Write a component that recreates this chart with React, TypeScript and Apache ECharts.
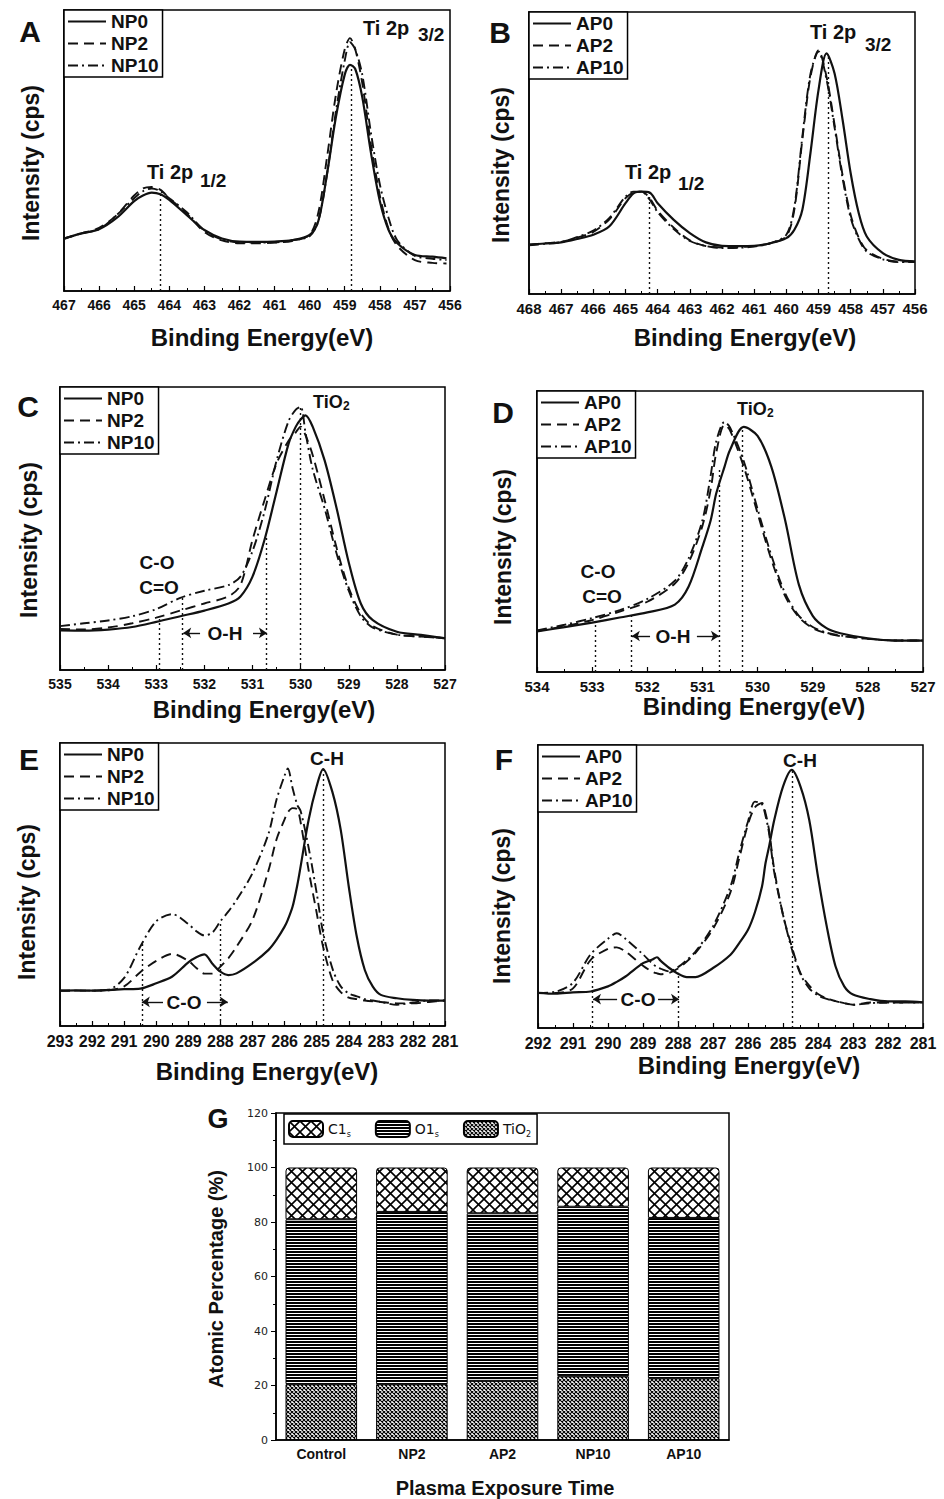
import React, { useEffect, useRef } from 'react';
import * as echarts from 'echarts';

// ---------- Panel A : Ti 2p, NP series ----------
const energyA = [467, 466.5, 466, 465.5, 465, 464.75, 464.5, 464.25, 464, 463.5, 463, 462.5, 462, 461.5, 461, 460.5, 460, 459.75, 459.5, 459.25, 459, 458.85, 458.7, 458.5, 458.25, 458, 457.75, 457.5, 457, 456.5, 456.1];
const aNP0 = [18.7, 20.5, 22, 26, 32, 34, 35, 34.4, 32.4, 27, 21.7, 18.7, 17.6, 17.5, 17.6, 18.1, 20, 25, 42, 62, 77, 80.5, 79, 69, 49, 32, 21.7, 17, 12.8, 12.2, 11.6];
const aNP2 = [18.7, 20.5, 22.5, 27, 34, 36.5, 37, 36, 33, 27.5, 21, 18, 17, 17, 17.2, 17.8, 20, 28, 48, 70, 86, 90, 86, 74, 52, 34, 22, 16, 11, 10, 9.8];
const aNP10 = [18.5, 20.5, 22, 27, 33, 35.5, 36.5, 35.5, 33, 28, 21.5, 18.3, 17.3, 17.2, 17.3, 18, 19.5, 25, 42, 64, 82, 88.5, 86, 77, 56, 38, 26, 18, 12.5, 11.5, 11];
const dropsA = [[464.27, 35], [458.8, 80.5]];

// ---------- Panel B : Ti 2p, AP series ----------
const energyB = [468, 467.5, 467, 466.5, 466, 465.5, 465, 464.75, 464.5, 464.25, 464, 463.5, 463, 462.5, 462, 461.5, 461, 460.5, 460, 459.75, 459.5, 459.25, 459, 458.75, 458.5, 458.25, 458, 457.75, 457.5, 457, 456.5, 456];
const bAP0 = [17.5, 17.9, 18.3, 19.5, 21, 24, 32.2, 35.7, 36.3, 36, 32.2, 26.3, 21.6, 18.3, 17.1, 17, 17.1, 18, 19.8, 22.8, 30, 50, 72.3, 85.3, 78.2, 61.7, 42.8, 28.7, 20.4, 14.5, 12.1, 11.6];
const bAP2 = [17.5, 18, 18.5, 20, 22, 26.5, 34, 36, 36.3, 34, 29.5, 23.5, 19, 17, 16.5, 16.6, 17, 18, 20.5, 30, 55, 77, 86.5, 77, 60, 42, 28, 20, 15.5, 12.5, 11.5, 11.5];
const bAP10 = [17.3, 17.8, 18.4, 20.2, 22.5, 27, 34.5, 36.3, 36.3, 33.5, 29, 23, 18.8, 17, 16.3, 16.4, 16.8, 18, 21, 31, 56, 78, 86, 76, 59, 41, 27, 19.5, 15, 12.3, 11.3, 11.3];
const dropsB = [[464.27, 36.3], [458.7, 85]];

// ---------- Panel C : O 1s, NP series ----------
const energyC = [535, 534.5, 534, 533.5, 533, 532.5, 532, 531.5, 531.25, 531, 530.75, 530.5, 530.25, 530.1, 530, 529.9, 529.75, 529.5, 529.25, 529, 528.75, 528.5, 528, 527.5, 527];
const cNP0 = [14, 13.9, 14.3, 15.2, 17, 19, 21, 23.5, 26, 33, 46, 63, 80, 86, 88.5, 90, 86, 74, 57, 38, 23.5, 17.6, 13.5, 12.4, 11.2];
const cNP2 = [14.5, 14.3, 15, 16.5, 18.5, 21, 23.5, 26, 30, 46, 60, 73, 81, 84, 86, 83, 76, 60, 43, 29, 20, 15.5, 12.5, 11.8, 11.3];
const cNP10 = [15.5, 16.5, 17.5, 19, 21.5, 25.5, 28, 30, 33, 42, 56, 74, 88, 92, 93, 84, 71, 57, 41, 28, 19, 15, 12.5, 11.8, 11.3];
const dropsC = [[532.94, 18], [532.45, 26], [530.71, 47], [530.0, 93]];
const arrowsC = [[532.09, 532.44, 13.1], [530.99, 530.70, 13.1]];

// ---------- Panel D : O 1s, AP series ----------
const energyD = [534, 533.5, 533, 532.5, 532, 531.5, 531.25, 531, 530.85, 530.75, 530.6, 530.5, 530.25, 530, 529.75, 529.5, 529.25, 529, 528.75, 528.5, 528, 527.5, 527];
const dAP0 = [14.4, 16, 17.6, 19.4, 21.2, 24, 30.4, 44.6, 54, 63.5, 73, 79, 87.2, 84, 73, 54, 31, 20, 15.6, 13.8, 12, 11.2, 11.2];
const dAP2 = [14.6, 16.3, 18.5, 21.5, 25, 31.5, 39, 52, 65, 78, 88, 86, 73, 56.5, 40, 27, 19.5, 15.6, 13.8, 12.8, 11.8, 11.2, 11.2];
const dAP10 = [14.8, 16.8, 19.2, 22, 26, 32.5, 40.5, 54, 70, 82, 89, 87, 75, 58, 41.5, 28, 20, 16, 14, 13, 11.8, 11.2, 11.2];
const dropsD = [[532.94, 18], [532.29, 21], [530.69, 72], [530.28, 87]];
const arrowsD = [[531.95, 532.28, 12.8], [531.10, 530.70, 12.8]];

// ---------- Panel E : C 1s, NP series ----------
const energyE = [293, 292.5, 292, 291.5, 291, 290.5, 290, 289.5, 289, 288.75, 288.5, 288.25, 288, 287.75, 287.5, 287, 286.5, 286.25, 286, 285.9, 285.75, 285.6, 285.5, 285.25, 285, 284.8, 284.5, 284.25, 284, 283.75, 283.5, 283.25, 283, 282.5, 282, 281.5, 281];
const eNP0 = [12.5, 12.6, 12.5, 12.7, 13, 13.2, 15.1, 17.5, 22.5, 24.3, 25.3, 22, 19.2, 18, 18.6, 22.2, 26.9, 30.5, 35.1, 37.5, 42.2, 50, 56.4, 72.9, 84.7, 90.8, 82.3, 69.3, 49.3, 31.6, 19.8, 13.9, 11, 9.8, 9.2, 9, 9];
const eNP2 = [12.5, 12.5, 12.5, 12.6, 14, 19, 23, 25.5, 23, 20.5, 18.5, 18.5, 21, 24, 28, 37.5, 55, 66, 73, 75.5, 77, 76.5, 72, 55, 40, 28, 16, 12, 10, 9.5, 9, 8.7, 8.5, 8, 8, 8.5, 9];
const eNP10 = [12.5, 12.5, 12.5, 12.8, 17, 28, 37, 39.5, 36, 33.5, 32, 33, 37, 40.5, 44.5, 54, 68, 80, 88.5, 91, 84, 78, 76, 63, 47, 33, 20, 14, 11.5, 10.5, 9.5, 9, 8.5, 7.5, 8.3, 9, 9];
const dropsE = [[290.45, 30], [288.0, 37], [284.81, 90.8]];
const arrowsE = [[289.79, 290.45, 8.5], [288.42, 287.77, 8.5]];

// ---------- Panel F : C 1s, AP series ----------
const energyF = [292, 291.5, 291, 290.5, 290, 289.75, 289.5, 289, 288.75, 288.6, 288.5, 288.25, 288, 287.75, 287.5, 287, 286.5, 286.25, 286, 285.8, 285.6, 285.5, 285.4, 285.25, 285, 284.75, 284.5, 284.25, 284, 283.75, 283.5, 283.25, 283, 282.5, 282, 281.5, 281];
const fAP0 = [12.4, 12.1, 12.6, 12.9, 14.7, 16.3, 18.2, 22.9, 24.1, 25, 23.8, 21.2, 19.2, 18, 18, 21.2, 25.9, 30, 34.7, 41, 50, 58.2, 64, 73.5, 85.3, 91.2, 85.3, 73.5, 53.5, 35.9, 21.8, 14.7, 11.8, 10.2, 9.4, 9.4, 9.1];
const fAP2 = [12.4, 12.4, 14, 24, 28, 28.5, 27, 22, 20, 19.3, 19, 19.5, 21, 23.5, 26.5, 35, 48, 60, 72, 78, 79.5, 76, 70, 56, 40, 28.8, 19.4, 15, 12, 10.5, 9.5, 8.8, 8.2, 9, 9, 9, 9];
const fAP10 = [12.4, 12.8, 16, 26, 31.5, 33.5, 31.5, 26, 23, 21.5, 21, 20, 21.5, 24, 27, 36, 50, 62, 73, 80, 79, 75, 69, 55, 40, 28, 19, 14, 11.5, 10.3, 9.5, 8.8, 8.2, 8.8, 9, 9, 9];
const dropsF = [[290.46, 26.5], [287.98, 19.5], [284.75, 91]];
const arrowsF = [[289.74, 290.43, 10.2], [288.57, 287.97, 10.2]];

// ---------- Panel G : atomic percentage ----------
const groups = ['Control', 'NP2', 'AP2', 'NP10', 'AP10'];
const tio2 = [20.5, 20.5, 21.7, 23.4, 22.7];
const o1s = [60.5, 63.2, 61.5, 62.2, 58.8];
const c1s = [19, 16.3, 16.8, 14.4, 18.5];
const yTicksG = [0, 120, 20];

const NP = ['NP0', 'NP2', 'NP10'];
const AP = ['AP0', 'AP2', 'AP10'];

const FONT = '"Liberation Sans", Arial, Helvetica, sans-serif';
const INK = '#111';

function makePattern(w: number, h: number, draw: (ctx: CanvasRenderingContext2D) => void) {
  const c = document.createElement('canvas');
  c.width = w;
  c.height = h;
  const ctx = c.getContext('2d')!;
  ctx.fillStyle = '#fff';
  ctx.fillRect(0, 0, w, h);
  ctx.strokeStyle = '#000';
  ctx.fillStyle = '#000';
  draw(ctx);
  return { image: c.toDataURL(), repeat: 'repeat', imageWidth: w, imageHeight: h } as any;
}

function crossHatch(size: number, lw: number) {
  return makePattern(size, size, (ctx) => {
    ctx.lineWidth = lw;
    for (const k of [-size, 0, size]) {
      ctx.beginPath();
      ctx.moveTo(k, 0);
      ctx.lineTo(k + size, size);
      ctx.moveTo(k + size, 0);
      ctx.lineTo(k, size);
      ctx.stroke();
    }
  });
}

export default function App() {
  const ref = useRef<HTMLDivElement>(null);

  useEffect(() => {
    const chart = echarts.init(ref.current!, undefined, { renderer: 'svg' });

    const panels = [
      { energy: energyA, names: NP, values: [aNP0, aNP2, aNP10], min: 456, max: 467, drops: dropsA, arrows: [] as number[][] },
      { energy: energyB, names: AP, values: [bAP0, bAP2, bAP10], min: 456, max: 468, drops: dropsB, arrows: [] as number[][] },
      { energy: energyC, names: NP, values: [cNP0, cNP2, cNP10], min: 527, max: 535, drops: dropsC, arrows: arrowsC },
      { energy: energyD, names: AP, values: [dAP0, dAP2, dAP10], min: 527, max: 534, drops: dropsD, arrows: arrowsD },
      { energy: energyE, names: NP, values: [eNP0, eNP2, eNP10], min: 281, max: 293, drops: dropsE, arrows: arrowsE },
      { energy: energyF, names: AP, values: [fAP0, fAP2, fAP10], min: 281, max: 292, drops: dropsF, arrows: arrowsF },
    ];

    const GRIDS = [
      { left: 64, top: 10, width: 386, height: 281 },
      { left: 529, top: 12, width: 386, height: 282 },
      { left: 60, top: 387, width: 385, height: 283 },
      { left: 537, top: 391, width: 386, height: 281 },
      { left: 60, top: 743, width: 385, height: 283 },
      { left: 538, top: 745, width: 385, height: 283 },
      { left: 276, top: 1113, width: 453, height: 327 },
    ];
    const tickFont = [14, 15, 14, 15, 16, 16];
    const lineTypes: any[] = ['solid', [10, 6], [10, 4, 2, 4]];

    const grid = GRIDS.map((g) => ({ ...g, show: true, borderColor: '#000', borderWidth: 1.5, backgroundColor: 'transparent' }));

    const xAxis: any[] = panels.map((p, i) => ({
      type: 'value', gridIndex: i, min: p.min, max: p.max, interval: 1, inverse: true,
      axisLine: { show: true, onZero: false, lineStyle: { color: '#000', width: 1.5 } },
      axisTick: { show: true, inside: true, length: 5, lineStyle: { color: '#000', width: 1.2 } },
      minorTick: { show: true, splitNumber: 2, length: 3, lineStyle: { color: '#000', width: 1 } },
      axisLabel: { color: INK, fontWeight: 'bold', fontSize: tickFont[i], fontFamily: FONT, margin: 7 },
      splitLine: { show: false }, minorSplitLine: { show: false },
    }));
    xAxis.push({
      type: 'category', gridIndex: 6, data: groups,
      axisLine: { show: true, lineStyle: { color: '#000', width: 1.5 } },
      axisTick: { show: false },
      axisLabel: { color: INK, fontWeight: 'bold', fontSize: 14, fontFamily: FONT, margin: 7 },
    });

    const yAxis: any[] = panels.map((_, i) => ({
      type: 'value', gridIndex: i, min: 0, max: 100,
      axisLine: { show: true, lineStyle: { color: '#000', width: 1.5 } },
      axisTick: { show: false }, axisLabel: { show: false }, splitLine: { show: false },
    }));
    yAxis.push({
      type: 'value', gridIndex: 6, min: yTicksG[0], max: yTicksG[1], interval: yTicksG[2],
      axisLine: { show: true, lineStyle: { color: '#000', width: 1.5 } },
      axisTick: { show: true, inside: false, length: 5, lineStyle: { color: '#000' } },
      minorTick: { show: true, splitNumber: 2, length: 3, lineStyle: { color: '#000' } },
      axisLabel: { color: '#222', fontSize: 11, fontFamily: '"DejaVu Sans", sans-serif', margin: 8 },
      splitLine: { show: false },
    });

    const series: any[] = [];
    panels.forEach((p, i) => {
      p.values.forEach((vals, k) => {
        const s: any = {
          type: 'line', name: p.names[k], xAxisIndex: i, yAxisIndex: i,
          data: p.energy.map((e, j) => [e, vals[j]]),
          symbol: 'none', smooth: 0.3, silent: true, color: INK,
          lineStyle: { color: INK, width: k === 0 ? 2.2 : 1.9, type: lineTypes[k] },
          emphasis: { disabled: true },
        };
        if (k === 0) {
          s.markLine = {
            silent: true, symbol: ['none', 'none'], label: { show: false },
            lineStyle: { color: INK, type: [2, 3], width: 1.4 },
            emphasis: { disabled: true },
            data: p.drops.map(([e, top]) => [{ coord: [e, 0] }, { coord: [e, top] }]),
          };
        }
        if (k === 1 && p.arrows.length) {
          s.markLine = {
            silent: true, symbol: ['none', 'none'], symbolSize: 8, label: { show: false },
            lineStyle: { color: INK, type: 'solid', width: 1.4 },
            emphasis: { disabled: true },
            data: p.arrows.map(([tail, head, y]) => [
              { coord: [tail, y], symbol: 'none' },
              { coord: [head, y], symbol: 'arrow', symbolSize: 8 },
            ]),
          };
        }
        series.push(s);
      });
    });

    const patC = crossHatch(11, 1.6);
    const patO = makePattern(4, 3, (ctx) => { ctx.fillRect(0, 0, 4, 2); });
    const patT = crossHatch(4, 1.1);

    const barBase = { type: 'bar', stack: 'atomic', xAxisIndex: 6, yAxisIndex: 6, barWidth: '79%', silent: true, emphasis: { disabled: true } };
    series.push({ ...barBase, name: 'TiO2', data: tio2, itemStyle: { color: patT, borderColor: '#000', borderWidth: 1 } });
    series.push({ ...barBase, name: 'O1s', data: o1s, itemStyle: { color: patO, borderColor: '#000', borderWidth: 1 } });
    series.push({ ...barBase, name: 'C1s', data: c1s, itemStyle: { color: patC, borderColor: '#000', borderWidth: 1, borderRadius: [3, 3, 0, 0] } });

    const legendPos = [
      { left: 64, top: 10 }, { left: 529, top: 12 }, { left: 60, top: 387 },
      { left: 537, top: 391 }, { left: 60, top: 743 }, { left: 538, top: 745 },
    ];
    const legend: any[] = panels.map((p, i) => ({
      ...legendPos[i], data: p.names, orient: 'vertical', selectedMode: false,
      itemWidth: 38, itemHeight: 12, itemGap: 3, padding: [2, 4, 2, 3],
      borderColor: '#000', borderWidth: 1.5, backgroundColor: '#fff',
      itemStyle: { color: 'rgba(0,0,0,0)', borderColor: 'rgba(0,0,0,0)', borderWidth: 0, opacity: 0 },
      textStyle: { color: INK, fontWeight: 'bold', fontSize: 19, fontFamily: FONT },
    }));
    const subNames: Record<string, string> = { C1s: '{a|C1}{s|s}', O1s: '{a|O1}{s|s}', TiO2: '{a|TiO}{s|2}' };
    legend.push({
      left: 284, top: 1114, data: ['C1s', 'O1s', 'TiO2'], orient: 'horizontal', selectedMode: false,
      itemWidth: 34, itemHeight: 16, itemGap: 24, padding: [6, 6, 6, 4],
      borderColor: '#000', borderWidth: 1.5, backgroundColor: '#fff',
      formatter: (n: string) => subNames[n],
      textStyle: {
        color: INK,
        rich: {
          a: { fontSize: 14, fontFamily: '"DejaVu Sans", sans-serif', color: INK, lineHeight: 18 },
          s: { fontSize: 8, fontFamily: '"DejaVu Sans", sans-serif', color: INK, lineHeight: 8, verticalAlign: 'bottom' },
        },
      },
    });

    const txt = (x: number, y: number, text: string, size: number, align = 'center', extra: any = {}) => ({
      type: 'text', x, y, silent: true, ...extra,
      style: {
        text, fill: INK, fontSize: size, fontWeight: 'bold', fontFamily: FONT,
        align, textAlign: align, verticalAlign: 'middle', textVerticalAlign: 'middle',
      },
    });
    const rot = { rotation: Math.PI / 2 };

    const graphic: any[] = [
      // panel letters
      txt(30, 31, 'A', 30), txt(500, 32, 'B', 30), txt(28, 406, 'C', 30),
      txt(503, 412, 'D', 30), txt(29, 759, 'E', 30), txt(504, 759, 'F', 30), txt(218, 1119, 'G', 27),
      // y titles
      txt(31, 163, 'Intensity (cps)', 23, 'center', rot), txt(501, 165, 'Intensity (cps)', 23, 'center', rot),
      txt(29, 540, 'Intensity (cps)', 23, 'center', rot), txt(503, 547, 'Intensity (cps)', 23, 'center', rot),
      txt(27, 902, 'Intensity (cps)', 23, 'center', rot), txt(502, 906, 'Intensity (cps)', 23, 'center', rot),
      txt(216, 1279, 'Atomic Percentage (%)', 20, 'center', rot),
      // x titles
      txt(262, 337, 'Binding Energy(eV)', 24), txt(745, 337, 'Binding Energy(eV)', 24),
      txt(264, 709, 'Binding Energy(eV)', 24), txt(754, 706, 'Binding Energy(eV)', 24),
      txt(267, 1071, 'Binding Energy(eV)', 24), txt(749, 1065, 'Binding Energy(eV)', 24),
      txt(505, 1488, 'Plasma Exposure Time', 20),
      // peak labels A
      txt(147, 172, 'Ti 2p', 20, 'left'), txt(200, 180, '1/2', 19, 'left'),
      txt(363, 28, 'Ti 2p', 20, 'left'), txt(418, 34, '3/2', 19, 'left'),
      // peak labels B
      txt(625, 172, 'Ti 2p', 20, 'left'), txt(678, 183, '1/2', 19, 'left'),
      txt(810, 32, 'Ti 2p', 20, 'left'), txt(865, 44, '3/2', 19, 'left'),
      // C
      txt(313, 402, 'TiO', 18, 'left'), txt(343, 406, '2', 12, 'left'),
      txt(157, 562, 'C-O', 19), txt(159, 587, 'C=O', 19), txt(225, 633, 'O-H', 19),
      // D
      txt(737, 409, 'TiO', 18, 'left'), txt(767, 413, '2', 12, 'left'),
      txt(598, 571, 'C-O', 19), txt(602, 596, 'C=O', 19), txt(673, 636, 'O-H', 19),
      // E, F
      txt(327, 758, 'C-H', 19), txt(184, 1002, 'C-O', 19),
      txt(800, 760, 'C-H', 19), txt(638, 999, 'C-O', 19),
    ];

    chart.setOption({
      animation: false,
      backgroundColor: '#fff',
      textStyle: { fontFamily: FONT },
      grid, xAxis, yAxis, series, legend, graphic,
    });

    return () => chart.dispose();
  }, []);

  return <div ref={ref} style={{ position: 'absolute', left: 0, top: 0, width: 944, height: 1499, background: '#fff' }} />;
}
